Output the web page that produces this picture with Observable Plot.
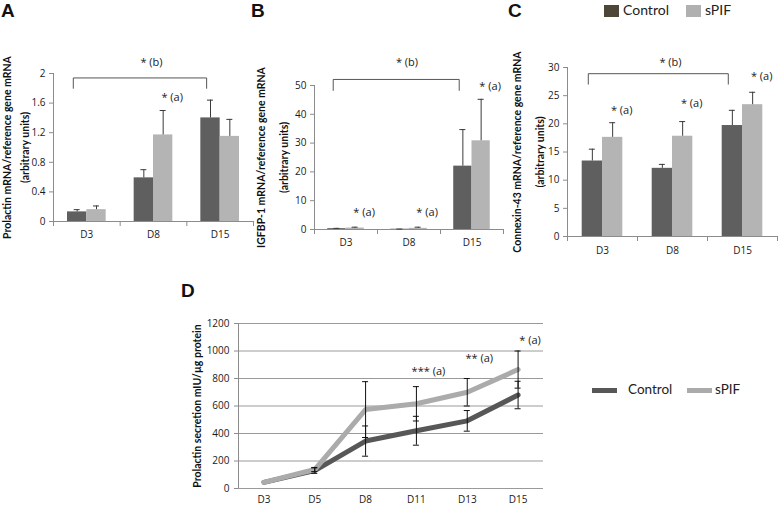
<!DOCTYPE html>
<html>
<head>
<meta charset="utf-8">
<script src="https://cdn.jsdelivr.net/npm/d3@7"></script>
<script src="https://cdn.jsdelivr.net/npm/@observablehq/plot@0.6"></script>
<style>
  html, body { margin: 0; padding: 0; background: #fff; }
  #root { position: relative; width: 778px; height: 507px; overflow: hidden; background: #fff; font-family: Lato, "Open Sans", sans-serif; color: #222; }
  .abs { position: absolute; white-space: nowrap; }
  .letter { font: bold 19px "Liberation Sans", Arial, sans-serif; line-height: 19px; color: #111; }
  .leg { font-family: Lato, sans-serif; color: #222; }
</style>
</head>
<body>
<div id="root"></div>
<script>
// ---------------- data ----------------
const days = ["D3", "D8", "D15"];
const series = ["Control", "sPIF"];
const barColors = ["#5f5f5f", "#b4b4b4"];
const legendColors = ["#4d4739", "#b0b0b0"];
const lineColors = ["#575757", "#ababab"];

// Panel A: Prolactin mRNA
const prlCtrl = [0.13, 0.59, 1.40];
const prlCtrlErr = [0.03, 0.11, 0.24];
const prlSpif = [0.16, 1.17, 1.15];
const prlSpifErr = [0.05, 0.33, 0.23];
const prlTicks = [0, 0.4, 0.8, 1.2, 1.6, 2];

// Panel B: IGFBP-1 mRNA
const igfCtrl = [0.3, 0.1, 22.0];
const igfCtrlErr = [0.1, 0.05, 12.7];
const igfSpif = [0.5, 0.4, 30.8];
const igfSpifErr = [0.3, 0.4, 14.4];
const igfTicks = [0, 10, 20, 30, 40, 50];

// Panel C: Connexin-43 mRNA
const cxCtrl = [13.4, 12.1, 19.7];
const cxCtrlErr = [2.1, 0.7, 2.7];
const cxSpif = [17.6, 17.8, 23.4];
const cxSpifErr = [2.6, 2.6, 2.2];
const cxTicks = [0, 5, 10, 15, 20, 25, 30];

// Panel D: prolactin secretion
const dDays = ["D3", "D5", "D8", "D11", "D13", "D15"];
const secCtrl = [45, 130, 345, 420, 492, 680];
const secCtrlErr = [0, 20, 110, 105, 75, 100];
const secSpif = [45, 138, 574, 616, 700, 865];
const secSpifErr = [0, 15, 203, 125, 100, 135];
const secTicks = [0, 200, 400, 600, 800, 1000, 1200];

// annotations (value-space heights)
const notesA = [{day: "D8", y: 1.68, label: "* (a)"}];
const notesB = [{day: "D3", y: 6.0, label: "* (a)"}, {day: "D8", y: 6.0, label: "* (a)"}, {day: "D15", y: 49.7, label: "* (a)"}];
const notesC = [{day: "D3", y: 22.3, label: "* (a)"}, {day: "D8", y: 23.6, label: "* (a)"}, {day: "D15", y: 28.4, label: "* (a)"}];
const bracketA = {top: 1.94, foot: 1.80, label: 2.15, text: "* (b)"};
const bracketB = {top: 52.1, foot: 48.3, label: 58.1, text: "* (b)"};
const bracketC = {top: 28.9, foot: 27.05, label: 30.9, text: "* (b)"};
const notesD = [{day: "D11", y: 848, label: "*** (a)"}, {day: "D13", y: 948, label: "** (a)"}, {day: "D15", y: 1079, label: "* (a)"}];

// ---------------- helpers ----------------
const root = document.getElementById("root");
function place(node, left, top) {
  node.style.position = "absolute";
  node.style.left = left + "px";
  node.style.top = top + "px";
  root.appendChild(node);
  return node;
}
function html(tag, cls, text, left, top, style = {}) {
  const el = document.createElement(tag);
  el.className = "abs " + cls;
  el.textContent = text;
  Object.assign(el.style, style);
  return place(el, left, top);
}

const axisGray = "#8c8c8c";
const baseStyle = {fontFamily: "'Open Sans', Lato, sans-serif", fontSize: "10px", color: "#1a1a1a", background: "transparent", overflow: "visible"};
const noteSize = 11;
const titleSize = 10.5;

function yTitle(text, dx) {
  return Plot.text([text], {text: d => d, frameAnchor: "left", textAnchor: "middle", rotate: -90, dx, fontFamily: "Lato, sans-serif", fontWeight: "bold", fontSize: titleSize, fill: "#111"});
}

function barPanel(cfg) {
  const {width, height, ml, mr, mt, mb} = cfg;
  const fw = width - ml - mr;
  const bw = fw / days.length;
  const barW = bw * 0.29;
  const rows = [];
  days.forEach((day, i) => {
    rows.push({day, series: "Control", value: cfg.ctrl[i], hi: cfg.ctrl[i] + cfg.ctrlErr[i]});
    rows.push({day, series: "sPIF", value: cfg.spif[i], hi: cfg.spif[i] + cfg.spifErr[i]});
  });
  const marks = [];
  // axes lines and tick marks
  marks.push(Plot.ruleX([days[0]], {dx: -bw / 2, stroke: axisGray}));
  marks.push(Plot.tickY(cfg.yTicks, {y: d => d, insetLeft: -4, insetRight: fw, stroke: axisGray}));
  marks.push(Plot.ruleX(days, {x: d => d, dx: -bw / 2, insetTop: height - mt - mb, insetBottom: -5, stroke: axisGray}));
  marks.push(Plot.ruleX([days[days.length - 1]], {dx: bw / 2, insetTop: height - mt - mb, insetBottom: -5, stroke: axisGray}));
  series.forEach((s, k) => {
    const sub = rows.filter(r => r.series === s);
    const dx = k === 0 ? -barW / 2 : barW / 2;
    marks.push(Plot.barY(sub, {x: "day", y: "value", fill: barColors[k], insetLeft: (bw - barW) / 2, insetRight: (bw - barW) / 2, dx}));
  });
  marks.push(Plot.ruleY([0], {stroke: axisGray}));
  series.forEach((s, k) => {
    const sub = rows.filter(r => r.series === s);
    const dx = k === 0 ? -barW / 2 : barW / 2;
    marks.push(Plot.ruleX(sub, {x: "day", y1: "value", y2: "hi", dx, stroke: "#3a3a3a"}));
    marks.push(Plot.tickY(sub, {x: "day", y: "hi", dx, insetLeft: bw / 2 - 3, insetRight: bw / 2 - 3, stroke: "#3a3a3a"}));
  });
  // bracket
  const br = cfg.bracket;
  const pts = [{day: days[0], y: br.foot}, {day: days[0], y: br.top}, {day: days[2], y: br.top}, {day: days[2], y: br.foot}];
  marks.push(Plot.line(pts, {x: "day", y: "y", dx: -barW * 0.7, stroke: "#555", strokeWidth: 1}));
  marks.push(Plot.text([br], {x: () => days[1], y: "label", text: "text", dx: -2, fontSize: noteSize, fill: "#1a1a1a"}));
  // significance notes
  marks.push(Plot.text(cfg.notes, {x: "day", y: "y", text: "label", dx: barW / 2 + 9, fontSize: noteSize, fill: "#1a1a1a"}));
  // y-axis title (two lines)
  marks.push(yTitle(cfg.title1, cfg.t1dx));
  marks.push(yTitle(cfg.title2, cfg.t2dx));

  return Plot.plot({
    width, height,
    marginLeft: ml, marginRight: mr, marginTop: mt, marginBottom: mb,
    style: baseStyle,
    x: {domain: days, padding: 0, round: false, tickSize: 0, tickPadding: cfg.xPad, label: null},
    y: {domain: cfg.yDomain, ticks: cfg.yTicks, tickFormat: d => String(d), tickSize: 0, tickPadding: 8, label: null},
    marks
  });
}

// ---------------- panels A, B, C ----------------
place(barPanel({
  width: 262, height: 252, ml: 53, mr: 9, mt: 73, mb: 31, xPad: 9,
  ctrl: prlCtrl, ctrlErr: prlCtrlErr, spif: prlSpif, spifErr: prlSpifErr,
  yDomain: [0, 2], yTicks: prlTicks, notes: notesA, bracket: bracketA,
  title1: "Prolactin mRNA/reference gene mRNA", title2: "(arbitrary units)", t1dx: -46, t2dx: -28
}), 0, 0);

place(barPanel({
  width: 250, height: 260, ml: 56, mr: 5, mt: 85, mb: 31, xPad: 9,
  ctrl: igfCtrl, ctrlErr: igfCtrlErr, spif: igfSpif, spifErr: igfSpifErr,
  yDomain: [0, 50], yTicks: igfTicks, notes: notesB, bracket: bracketB,
  title1: "IGFBP-1 mRNA/reference gene mRNA", title2: "(arbitrary units)", t1dx: -53, t2dx: -30
}), 258, 0);

place(barPanel({
  width: 270, height: 265, ml: 59, mr: 1, mt: 67, mb: 29, xPad: 10,
  ctrl: cxCtrl, ctrlErr: cxCtrlErr, spif: cxSpif, spifErr: cxSpifErr,
  yDomain: [0, 30], yTicks: cxTicks, notes: notesC, bracket: bracketC,
  title1: "Connexin-43 mRNA/reference gene mRNA", title2: "(arbitrary units)", t1dx: -50, t2dx: -27
}), 508, 0);

// ---------------- panel D ----------------
(function () {
  const width = 370, height = 227, ml = 58, mr = 7, mt = 43, mb = 19;
  const fw = width - ml - mr;
  const bw = fw / dDays.length;
  const ctrlRows = dDays.map((day, i) => ({day, value: secCtrl[i], lo: secCtrl[i] - secCtrlErr[i], hi: secCtrl[i] + secCtrlErr[i], err: secCtrlErr[i]}));
  const spifRows = dDays.map((day, i) => ({day, value: secSpif[i], lo: secSpif[i] - secSpifErr[i], hi: secSpif[i] + secSpifErr[i], err: secSpifErr[i]}));
  const errRows = [...ctrlRows, ...spifRows].filter(r => r.err > 0);
  const capInset = bw / 2 - 3;
  const svg = Plot.plot({
    width, height, marginLeft: ml, marginRight: mr, marginTop: mt, marginBottom: mb,
    style: baseStyle,
    x: {domain: dDays, padding: 0, round: false, tickSize: 0, tickPadding: 7, label: null},
    y: {domain: [0, 1200], ticks: secTicks, tickFormat: d => String(d), tickSize: 0, tickPadding: 9, label: null},
    marks: [
      Plot.ruleY(secTicks, {stroke: "#9a9a9a"}),
      Plot.tickY(secTicks, {y: d => d, insetLeft: -4, insetRight: fw, stroke: axisGray}),
      Plot.ruleX([dDays[0]], {dx: -bw / 2, stroke: axisGray}),
      Plot.line(ctrlRows, {x: "day", y: "value", stroke: lineColors[0], strokeWidth: 5}),
      Plot.line(spifRows, {x: "day", y: "value", stroke: lineColors[1], strokeWidth: 5}),
      Plot.ruleX(errRows, {x: "day", y1: "lo", y2: "hi", stroke: "#111", strokeWidth: 1}),
      Plot.tickY(errRows, {x: "day", y: "lo", insetLeft: capInset, insetRight: capInset, stroke: "#111"}),
      Plot.tickY(errRows, {x: "day", y: "hi", insetLeft: capInset, insetRight: capInset, stroke: "#111"}),
      Plot.text(notesD, {x: "day", y: "y", text: "label", dx: 12, fontSize: noteSize, fill: "#1a1a1a"}),
      yTitle("Prolactin secretion mIU/\u00b5g protein", -41)
    ]
  });
  place(svg, 180, 280);
})();

// ---------------- panel letters ----------------
html("div", "letter", "A", 1, 1);
html("div", "letter", "B", 251, 1);
html("div", "letter", "C", 508, 1);
html("div", "letter", "D", 181, 281);

// ---------------- legends ----------------
// top legend (bar swatches)
const topLeg = [{x: 604, tx: 623}, {x: 686, tx: 705}];
series.forEach((s, k) => {
  const sw = document.createElement("div");
  sw.className = "abs";
  Object.assign(sw.style, {width: "15px", height: "12px", background: legendColors[k]});
  place(sw, topLeg[k].x, 5);
  html("div", "leg", s, topLeg[k].tx, 3, {fontSize: "14px", lineHeight: "14px"});
});
// panel D legend (line swatches)
const dLeg = [{x: 592, tx: 628}, {x: 687, tx: 715}];
series.forEach((s, k) => {
  const sw = document.createElement("div");
  sw.className = "abs";
  Object.assign(sw.style, {width: "25px", height: "5px", background: lineColors[k]});
  place(sw, dLeg[k].x, 388);
  html("div", "leg", s, dLeg[k].tx, 383, {fontSize: "13.5px", lineHeight: "13.5px"});
});
</script>
</body>
</html>
